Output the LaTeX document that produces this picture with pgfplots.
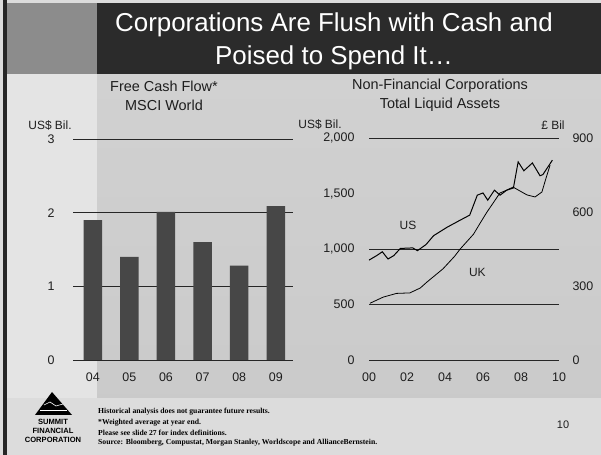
\documentclass[border=0pt]{standalone}
\usepackage{pgfplots}
\pgfplotsset{compat=1.18}
\usepackage{fontspec}
\setmainfont{Liberation Sans}
\newfontfamily\seriffont{Liberation Serif}
\definecolor{bgA}{HTML}{DCDCDC}
\definecolor{bgL}{HTML}{E4E4E4}
\definecolor{band}{HTML}{2B2B2B}
\definecolor{bandL}{HTML}{8C8C8C}
\definecolor{barc}{HTML}{474747}
\definecolor{txt}{HTML}{1E1E1E}
\begin{document}
\begin{tikzpicture}
\useasboundingbox (0,0) rectangle (601bp,455bp);
% slide background
\fill[bgA] (0,0) rectangle (601bp,455bp);
\fill[bgL] (7bp,57bp) rectangle (97bp,381bp);
\shade[top color=bgA!95!black, middle color=black!37, bottom color=bgA!92!black] (97bp,57bp) rectangle (601bp,381bp);
% title band
\fill[bandL] (7bp,381bp) rectangle (97bp,452bp);
\fill[band] (97bp,381bp) rectangle (601bp,452bp);
\fill[black!85] (3bp,0) rectangle (7bp,455bp);
\node[text=white, font=\fontsize{26}{30}\selectfont] at (334bp,430bp) {Corporations Are Flush with Cash and};
\node[text=white, font=\fontsize{26}{30}\selectfont] at (334bp,397bp) {Poised to Spend It\ldots};
% subtitles
\node[text=txt, font=\fontsize{14.5}{17}\selectfont] at (164bp,369bp) {Free Cash Flow*};
\node[text=txt, font=\fontsize{14.5}{17}\selectfont] at (164bp,350bp) {MSCI World};
\node[text=txt, font=\fontsize{14.5}{17}\selectfont] at (440bp,369bp) {Non-Financial Corporations};
\node[text=txt, font=\fontsize{14.5}{17}\selectfont] at (440bp,350bp) {Total Liquid Assets};
% unit labels
\node[text=txt, font=\fontsize{12}{14}\selectfont] at (50bp,330bp) {US\$ Bil.};
\node[text=txt, font=\fontsize{12}{14}\selectfont] at (320bp,331bp) {US\$ Bil.};
\node[text=txt, font=\fontsize{12}{14}\selectfont] at (553bp,330bp) {£ Bil};

% ---------- left chart: Free Cash Flow ----------
\begin{axis}[
  at={(73bp,95bp)}, anchor=south west, scale only axis,
  width=220bp, height=221bp,
  xmin=-0.54, xmax=5.47, ymin=0, ymax=3,
  axis line style={draw=none}, major tick length=0pt,
  xtick={0,1,2,3,4,5}, xticklabels={04,05,06,07,08,09},
  ytick={0,1,2,3},
  ymajorgrids, grid style={black!85, line width=0.7pt},
  tick label style={font=\fontsize{12.5}{15}\selectfont, text=txt},
  /pgf/number format/assume math mode=true,
  xticklabel style={yshift=-9bp},
  yticklabel style={xshift=-15bp},
  clip=false,
]
\addplot[ybar, bar width=18.5bp, fill=barc, draw=none] coordinates {(0,1.90) (1,1.40) (2,2.01) (3,1.60) (4,1.28) (5,2.09)};
\end{axis}

% ---------- right chart: Total Liquid Assets, US (left scale) ----------
\begin{axis}[
  at={(369bp,95bp)}, anchor=south west, scale only axis,
  width=190bp, height=222bp,
  xmin=2000, xmax=2010, ymin=0, ymax=2000,
  axis line style={draw=none}, major tick length=0pt,
  xtick={2000,2002,2004,2006,2008,2010}, xticklabels={00,02,04,06,08,10},
  ytick={0,500,1000,2000}, yticklabels={0,500,{1{,}000},{2{,}000}},
  extra y ticks={1500}, extra y tick labels={1{,}500},
  extra y tick style={grid=none},
  ymajorgrids, grid style={black!85, line width=0.7pt},
  tick label style={font=\fontsize{12.5}{15}\selectfont, text=txt},
  /pgf/number format/assume math mode=true,
  xticklabel style={yshift=-9bp},
  yticklabel style={xshift=-11bp},
  clip=false,
]
\addplot[black, line width=1pt] coordinates {
(2000.00,900) (2000.40,940) (2000.70,975) (2001.00,910) (2001.30,940)
(2001.65,1005) (2002.30,1010) (2002.55,985) (2003.00,1040) (2003.40,1120)
(2004.10,1195) (2004.80,1260) (2005.30,1305) (2005.70,1485) (2006.00,1505)
(2006.25,1440) (2006.60,1530) (2006.90,1485) (2007.25,1530) (2007.60,1550)
(2007.85,1785) (2008.15,1705) (2008.60,1775) (2009.00,1660) (2009.15,1670)
(2009.65,1800)};
\node[text=txt, font=\fontsize{12}{14}\selectfont] at (axis cs:2002.05,1215) {US};
\node[text=txt, font=\fontsize{12}{14}\selectfont] at (axis cs:2005.7,793) {UK};
\end{axis}

% ---------- right chart: UK (right scale) ----------
\begin{axis}[
  at={(369bp,95bp)}, anchor=south west, scale only axis,
  width=190bp, height=222bp,
  xmin=2000, xmax=2010, ymin=0, ymax=900,
  axis line style={draw=none}, major tick length=0pt,
  xtick=\empty,
  ytick={0,300,600,900}, yticklabel pos=right,
  tick label style={font=\fontsize{12.5}{15}\selectfont, text=txt},
  /pgf/number format/assume math mode=true,
  yticklabel style={xshift=10bp},
  clip=false,
]
\addplot[black, line width=0.8pt] coordinates {
(2000.05,230) (2000.75,255) (2001.45,270) (2002.15,272) (2002.70,292)
(2003.05,316) (2003.90,370) (2004.50,420) (2004.80,450) (2005.50,510)
(2005.85,555) (2006.21,600) (2006.53,636) (2006.89,677) (2007.26,689)
(2007.58,701) (2008.32,669) (2008.74,661) (2009.10,681) (2009.32,738)
(2009.53,790)};
\end{axis}

% ---------- footer ----------
\fill[black] (35bp,40bp) -- (52bp,63bp) -- (72bp,40bp) -- cycle;
\draw[white, line width=0.6pt] (44bp,50bp) -- (50bp,53bp) -- (56bp,49bp) -- (63bp,51bp);
\draw[white, line width=0.5pt] (40bp,45bp) -- (67bp,45bp);
\node[text=black, font=\bfseries\fontsize{7.6}{8}\selectfont] at (53bp,33bp) {SUMMIT};
\node[text=black, font=\bfseries\fontsize{7.6}{8}\selectfont] at (53bp,24bp) {FINANCIAL};
\node[text=black, font=\bfseries\fontsize{7.6}{8}\selectfont] at (53bp,15bp) {CORPORATION};
\begin{scope}[every node/.style={anchor=west, inner sep=0pt, text=black, font=\seriffont\bfseries\fontsize{7.7}{8}\selectfont}]
\node at (98bp,43bp) {Historical analysis does not guarantee future results.};
\node at (98bp,32bp) {*Weighted average at year end.};
\node at (98bp,22bp) {Please see slide 27 for index definitions.};
\node at (98bp,12bp) {Source: Bloomberg, Compustat, Morgan Stanley, Worldscope and AllianceBernstein.};
\end{scope}
\node[text=txt, font=\fontsize{11}{13}\selectfont] at (563bp,30bp) {10};
\end{tikzpicture}
\end{document}
